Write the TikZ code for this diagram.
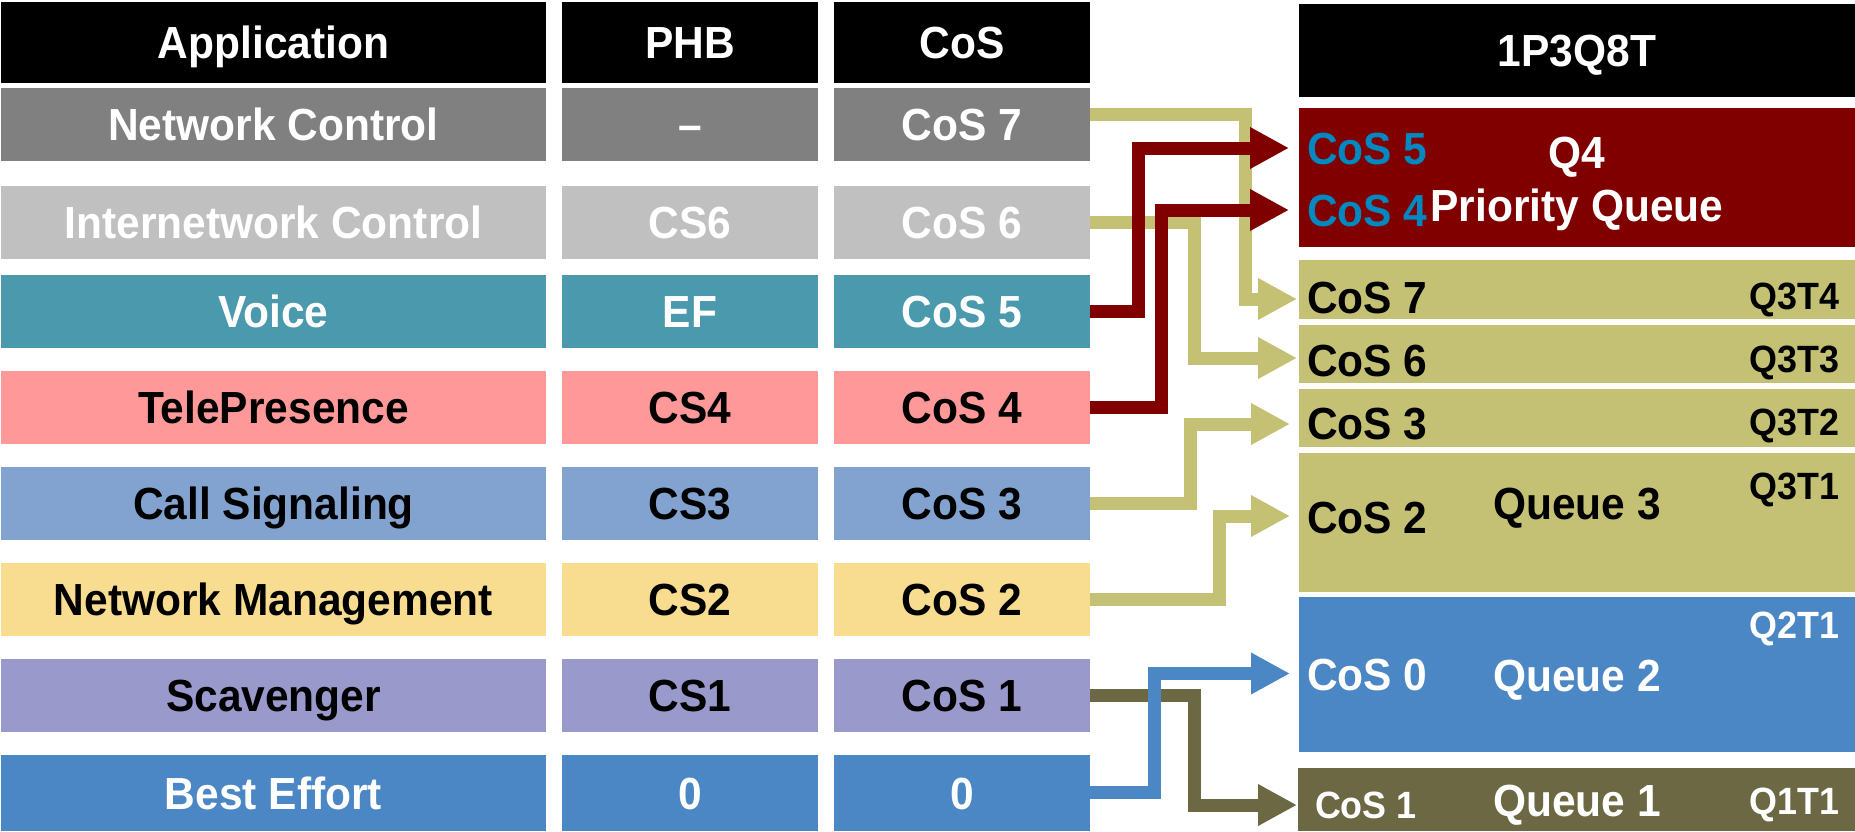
\documentclass[tikz,border=0pt]{standalone}
\usepackage{fontspec}
\setmainfont{Liberation Sans}[FakeStretch=0.944]
\usetikzlibrary{arrows.meta}

\definecolor{cHead}{HTML}{000000}
\definecolor{cNC}{HTML}{808080}
\definecolor{cIC}{HTML}{C0C0C0}
\definecolor{cVoice}{HTML}{4A99AD}
\definecolor{cTele}{HTML}{FF9999}
\definecolor{cCall}{HTML}{82A2D0}
\definecolor{cMgmt}{HTML}{F8DD91}
\definecolor{cScav}{HTML}{9999CB}
\definecolor{cBest}{HTML}{4A87C4}
\definecolor{cPrio}{HTML}{800000}
\definecolor{cOlive}{HTML}{C4C174}
\definecolor{cDark}{HTML}{6B6843}
\definecolor{cCosBlue}{HTML}{0088C0}

\tikzset{
  cell/.style={inner sep=0pt, outer sep=0pt, draw=none,
    font=\fontsize{45}{45}\selectfont\bfseries, text height=32.2pt, text depth=0pt},
  appcell/.style={cell, minimum width=545pt},
  phbcell/.style={cell, minimum width=256pt},
  coscell/.style={cell, minimum width=256pt},
  qbox/.style={inner sep=0pt, outer sep=0pt, draw=none, minimum width=556pt},
  lbl/.style={inner sep=0pt, outer sep=0pt,
    font=\fontsize{45}{45}\selectfont\bfseries, text height=32.2pt, text depth=0pt},
  small/.style={inner sep=0pt, outer sep=0pt,
    font=\fontsize{38}{38}\selectfont\bfseries, text height=27.2pt, text depth=0pt},
  flow/.style={line width=13pt, -{Triangle[length=39pt,width=39pt]}},
}

\begin{document}
\begin{tikzpicture}[x=1pt,y=-1pt]
\useasboundingbox (0,0) rectangle (1855,831);

% ---- header row ----
\node[appcell, fill=cHead, text=white, minimum height=81pt] (hApp) at (273.5,42.5) {Application};
\node[phbcell, fill=cHead, text=white, minimum height=81pt] (hPHB) at (690,42.5) {PHB};
\node[coscell, fill=cHead, text=white, minimum height=81pt] (hCoS) at (962,42.5) {CoS};

% ---- classification table ----
\node[appcell, fill=cNC, text=white, minimum height=73pt] (aNC) at (273.5,124.5) {Network Control};
\node[phbcell, fill=cNC, text=white, minimum height=73pt] (pNC) at (690,124.5) {–};
\node[coscell, fill=cNC, text=white, minimum height=73pt] (cNC) at (962,124.5) {CoS 7};

\node[appcell, fill=cIC, text=white, minimum height=73pt] (aIC) at (273.5,222.5) {Internetwork Control};
\node[phbcell, fill=cIC, text=white, minimum height=73pt] (pIC) at (690,222.5) {CS6};
\node[coscell, fill=cIC, text=white, minimum height=73pt] (cIC) at (962,222.5) {CoS 6};

\node[appcell, fill=cVoice, text=white, minimum height=73pt] (aV) at (273.5,311.5) {Voice};
\node[phbcell, fill=cVoice, text=white, minimum height=73pt] (pV) at (690,311.5) {EF};
\node[coscell, fill=cVoice, text=white, minimum height=73pt] (cV) at (962,311.5) {CoS 5};

\node[appcell, fill=cTele, text=black, minimum height=73pt] (aT) at (273.5,407.5) {TelePresence};
\node[phbcell, fill=cTele, text=black, minimum height=73pt] (pT) at (690,407.5) {CS4};
\node[coscell, fill=cTele, text=black, minimum height=73pt] (cT) at (962,407.5) {CoS 4};

\node[appcell, fill=cCall, text=black, minimum height=73pt] (aC) at (273.5,503.5) {Call Signaling};
\node[phbcell, fill=cCall, text=black, minimum height=73pt] (pC) at (690,503.5) {CS3};
\node[coscell, fill=cCall, text=black, minimum height=73pt] (cC) at (962,503.5) {CoS 3};

\node[appcell, fill=cMgmt, text=black, minimum height=73pt] (aM) at (273.5,599.5) {Network Management};
\node[phbcell, fill=cMgmt, text=black, minimum height=73pt] (pM) at (690,599.5) {CS2};
\node[coscell, fill=cMgmt, text=black, minimum height=73pt] (cM) at (962,599.5) {CoS 2};

\node[appcell, fill=cScav, text=black, minimum height=73pt] (aS) at (273.5,695.5) {Scavenger};
\node[phbcell, fill=cScav, text=black, minimum height=73pt] (pS) at (690,695.5) {CS1};
\node[coscell, fill=cScav, text=black, minimum height=73pt] (cS) at (962,695.5) {CoS 1};

\node[appcell, fill=cBest, text=white, minimum height=76pt] (aB) at (273.5,793) {Best Effort};
\node[phbcell, fill=cBest, text=white, minimum height=76pt] (pB) at (690,793) {0};
\node[coscell, fill=cBest, text=white, minimum height=76pt] (cB) at (962,793) {0};

% ---- 1P3Q8T queue structure ----
\node[qbox, fill=cHead, minimum height=93pt, text=white, lbl] (hQ) at (1577,50.5) {1P3Q8T};
\node[qbox, fill=cPrio, minimum height=139pt] (pq) at (1577,177.5) {};
\node[qbox, fill=cOlive, minimum height=59pt] (q7) at (1577,289.5) {};
\node[qbox, fill=cOlive, minimum height=58pt] (q6) at (1577,354) {};
\node[qbox, fill=cOlive, minimum height=58pt] (q3t2) at (1577,418) {};
\node[qbox, fill=cOlive, minimum height=139pt] (q3) at (1577,522.5) {};
\node[qbox, fill=cBest, minimum height=155pt] (q2) at (1577,674.5) {};
\node[qbox, fill=cDark, minimum height=63pt, minimum width=557pt] (q1) at (1576.5,799.5) {};

% labels inside the queues
\node[lbl, text=cCosBlue, anchor=west] (l5) at (1307,148) {CoS 5};
\node[lbl, text=cCosBlue, anchor=west] (l4) at (1307,210) {CoS 4};
\node[lbl, text=white] (lq4) at (1577,152) {Q4};
\node[lbl, text=white] (lpq) at (1577,205) {Priority Queue};

\node[lbl, anchor=west] (l7) at (1307,297.5) {CoS 7};
\node[small, anchor=east] (t34) at (1839,296) {Q3T4};
\node[lbl, anchor=west] (l6) at (1307,360) {CoS 6};
\node[small, anchor=east] (t33) at (1839,359) {Q3T3};
\node[lbl, anchor=west] (l3) at (1307,423.5) {CoS 3};
\node[small, anchor=east] (t32) at (1839,421.5) {Q3T2};
\node[lbl, anchor=west] (l2) at (1307,517) {CoS 2};
\node[lbl] (lq3) at (1577,503.5) {Queue 3};
\node[small, anchor=east] (t31) at (1839,485.5) {Q3T1};

\node[lbl, text=white, anchor=west] (l0) at (1307,674.5) {CoS 0};
\node[lbl, text=white] (lq2) at (1577,675) {Queue 2};
\node[small, text=white, anchor=east] (t21) at (1839,625) {Q2T1};

\node[small, text=white, anchor=west] (l1) at (1315,805) {CoS 1};
\node[lbl, text=white] (lq1) at (1577,800) {Queue 1};
\node[small, text=white, anchor=east] (t11) at (1839,801) {Q1T1};

% ---- mapping of CoS values onto queues ----
\draw[flow, cOlive] ([yshift=10.5pt]cNC.east) -- ++(155,0) |- ([xshift=-2pt,yshift=-9.5pt]q7.west);
\draw[flow, cOlive] (cIC.east) -- ++(104,0) |- ([xshift=-2pt,yshift=-4pt]q6.west);
\draw[flow, cOlive] (cC.east) -- ++(100,0) |- ([xshift=-9pt,yshift=-6pt]q3t2.west);
\draw[flow, cOlive] (cM.east) -- ++(129,0) |- ([xshift=-9pt,yshift=6.5pt]q3.west);
\draw[flow, cDark] (cS.east) -- ++(104,0) |- ([xshift=-1pt,yshift=-5.5pt]q1.west);
\draw[flow, cBest] ([yshift=1pt]cB.east) -- ++(64,0) |- ([xshift=-9pt,yshift=1pt]q2.west);
\draw[flow, cPrio] (cV.east) -- ++(48.5,0) |- ([xshift=-10pt,yshift=29.5pt]pq.west);
\draw[flow, cPrio] (cT.east) -- ++(71,0) |- ([xshift=-10pt,yshift=-32.5pt]pq.west);
\end{tikzpicture}
\end{document}
